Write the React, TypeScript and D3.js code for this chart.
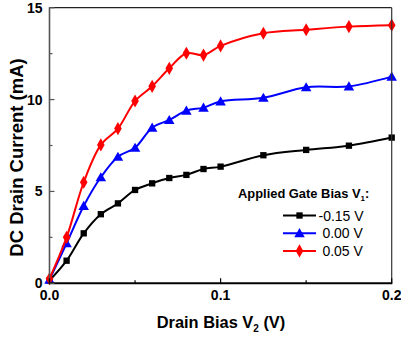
import React from "react";
import * as d3 from "d3";

const xValues = [0, 0.01, 0.02, 0.03, 0.04, 0.05, 0.06, 0.07, 0.08, 0.09, 0.1, 0.125, 0.15, 0.175, 0.2];
const seriesNeg015 = [0.15, 1.23, 2.72, 3.76, 4.35, 5.08, 5.44, 5.73, 5.9, 6.22, 6.35, 6.97, 7.26, 7.49, 7.93];
const series000 = [0.2, 2.18, 4.21, 5.77, 6.89, 7.38, 8.47, 8.89, 9.4, 9.56, 9.9, 10.1, 10.67, 10.72, 11.25];
const series005 = [0.25, 2.5, 5.5, 7.53, 8.42, 9.92, 10.72, 11.7, 12.52, 12.42, 12.92, 13.61, 13.8, 13.97, 14.05];
const legendLabels = ["-0.15 V", " 0.00 V", " 0.05 V"];
const xTicks = [0, 0.1, 0.2];
const xTickLabels = ["0.0", "0.1", "0.2"];
const xMinorTicks = [0.05, 0.15];
const yTicks = [0, 5, 10, 15];
const yMinorTicks = [2.5, 7.5, 12.5];

const W = 401;
const H = 339;
const L = 49.5, R = 391.7, T = 7.7, B = 283.3;

const x = d3.scaleLinear().domain([0, 0.2]).range([L, R]);
const y = d3.scaleLinear().domain([0, 15]).range([B, T]);

type Marker = "square" | "triangle" | "diamond";
const series = [
  { values: seriesNeg015, color: "#000000", marker: "square" as Marker },
  { values: series000, color: "#0000ff", marker: "triangle" as Marker },
  { values: series005, color: "#ff0000", marker: "diamond" as Marker },
];

const symbolFor = (m: Marker) =>
  m === "square" ? d3.symbol(d3.symbolSquare, 40) :
  m === "triangle" ? d3.symbol(d3.symbolTriangle, 48) :
  d3.symbol(d3.symbolDiamond, 50);

const line = d3
  .line<number>()
  .x((_, i) => x(xValues[i]))
  .y((v) => y(v))
  .curve(d3.curveCatmullRom.alpha(0.5));

const font = "'Liberation Sans', Arial, Helvetica, sans-serif";

export default function App() {
  return (
    <svg width={W} height={H} style={{ position: "absolute", left: 0, top: 0, background: "#fff" }} fontFamily={font}>
      <rect x={0} y={0} width={W} height={H} fill="#fff" />
      {/* series */}
      {series.map((s, si) => (
        <g key={si}>
          <path d={line(s.values) || ""} fill="none" stroke={s.color} strokeWidth={2} />
          {s.values.map((v, i) => (
            <path
              key={i}
              d={symbolFor(s.marker)() || ""}
              transform={`translate(${x(xValues[i])},${y(v) + (s.marker === "triangle" ? 1 : 0)})`}
              fill={s.color}
            />
          ))}
        </g>
      ))}
      {/* frame */}
      <line x1={L} y1={T} x2={R} y2={T} stroke="#222" strokeWidth={1.2} />
      <line x1={R} y1={T} x2={R} y2={B} stroke="#333" strokeWidth={1.2} />
      <line x1={L} y1={T - 0.5} x2={L} y2={B + 1} stroke="#555" strokeWidth={1.6} />
      <line x1={L - 0.8} y1={B} x2={R + 0.6} y2={B} stroke="#000" strokeWidth={2} />
      {/* y ticks */}
      {yTicks.map((t) => (
        <g key={"y" + t}>
          <line x1={L} x2={L + 5} y1={y(t)} y2={y(t)} stroke="#555" strokeWidth={1.2} />
          <text x={L - 7} y={y(t)} dy="0.36em" textAnchor="end" fontSize={14} fontWeight="bold">
            {t}
          </text>
        </g>
      ))}
      {yMinorTicks.map((t) => (
        <line key={"ym" + t} x1={L} x2={L + 3} y1={y(t)} y2={y(t)} stroke="#555" strokeWidth={1.2} />
      ))}
      {/* x ticks */}
      {xTicks.map((t, i) => (
        <g key={"x" + t}>
          <line x1={x(t)} x2={x(t)} y1={B} y2={B - 5} stroke="#000" strokeWidth={1.2} />
          <text x={x(t)} y={B + 17} textAnchor="middle" fontSize={14} fontWeight="bold">
            {xTickLabels[i]}
          </text>
        </g>
      ))}
      {xMinorTicks.map((t) => (
        <line key={"xm" + t} x1={x(t)} x2={x(t)} y1={B} y2={B - 3} stroke="#000" strokeWidth={1.2} />
      ))}
      {/* axis titles */}
      <text x={221} y={328} textAnchor="middle" fontSize={16.4} fontWeight="bold">
        Drain Bias V<tspan fontSize={10} dy={4}>2</tspan>
        <tspan dy={-4}> (V)</tspan>
      </text>
      <text
        transform={`translate(23,157.5) rotate(-90)`}
        textAnchor="middle"
        fontSize={18.5}
        fontWeight="bold"
      >
        DC Drain Current (mA)
      </text>
      {/* legend */}
      <text x={238} y={198} fontSize={12.9} fontWeight="bold">
        Applied Gate Bias V<tspan fontSize={8} dy={3}>1</tspan>
        <tspan dy={-3}>:</tspan>
      </text>
      {series.map((s, i) => {
        const ly = 215.5 + i * 17.7;
        return (
          <g key={"lg" + i}>
            <line x1={283} x2={316} y1={ly} y2={ly} stroke={s.color} strokeWidth={2} />
            <path
              d={symbolFor(s.marker)() || ""}
              transform={`translate(299.5,${ly + (s.marker === "triangle" ? 1 : 0)})`}
              fill={s.color}
            />
            <text x={318.5} y={ly} dy="0.36em" fontSize={14} style={{ whiteSpace: "pre" }}>
              {legendLabels[i]}
            </text>
          </g>
        );
      })}
    </svg>
  );
}
